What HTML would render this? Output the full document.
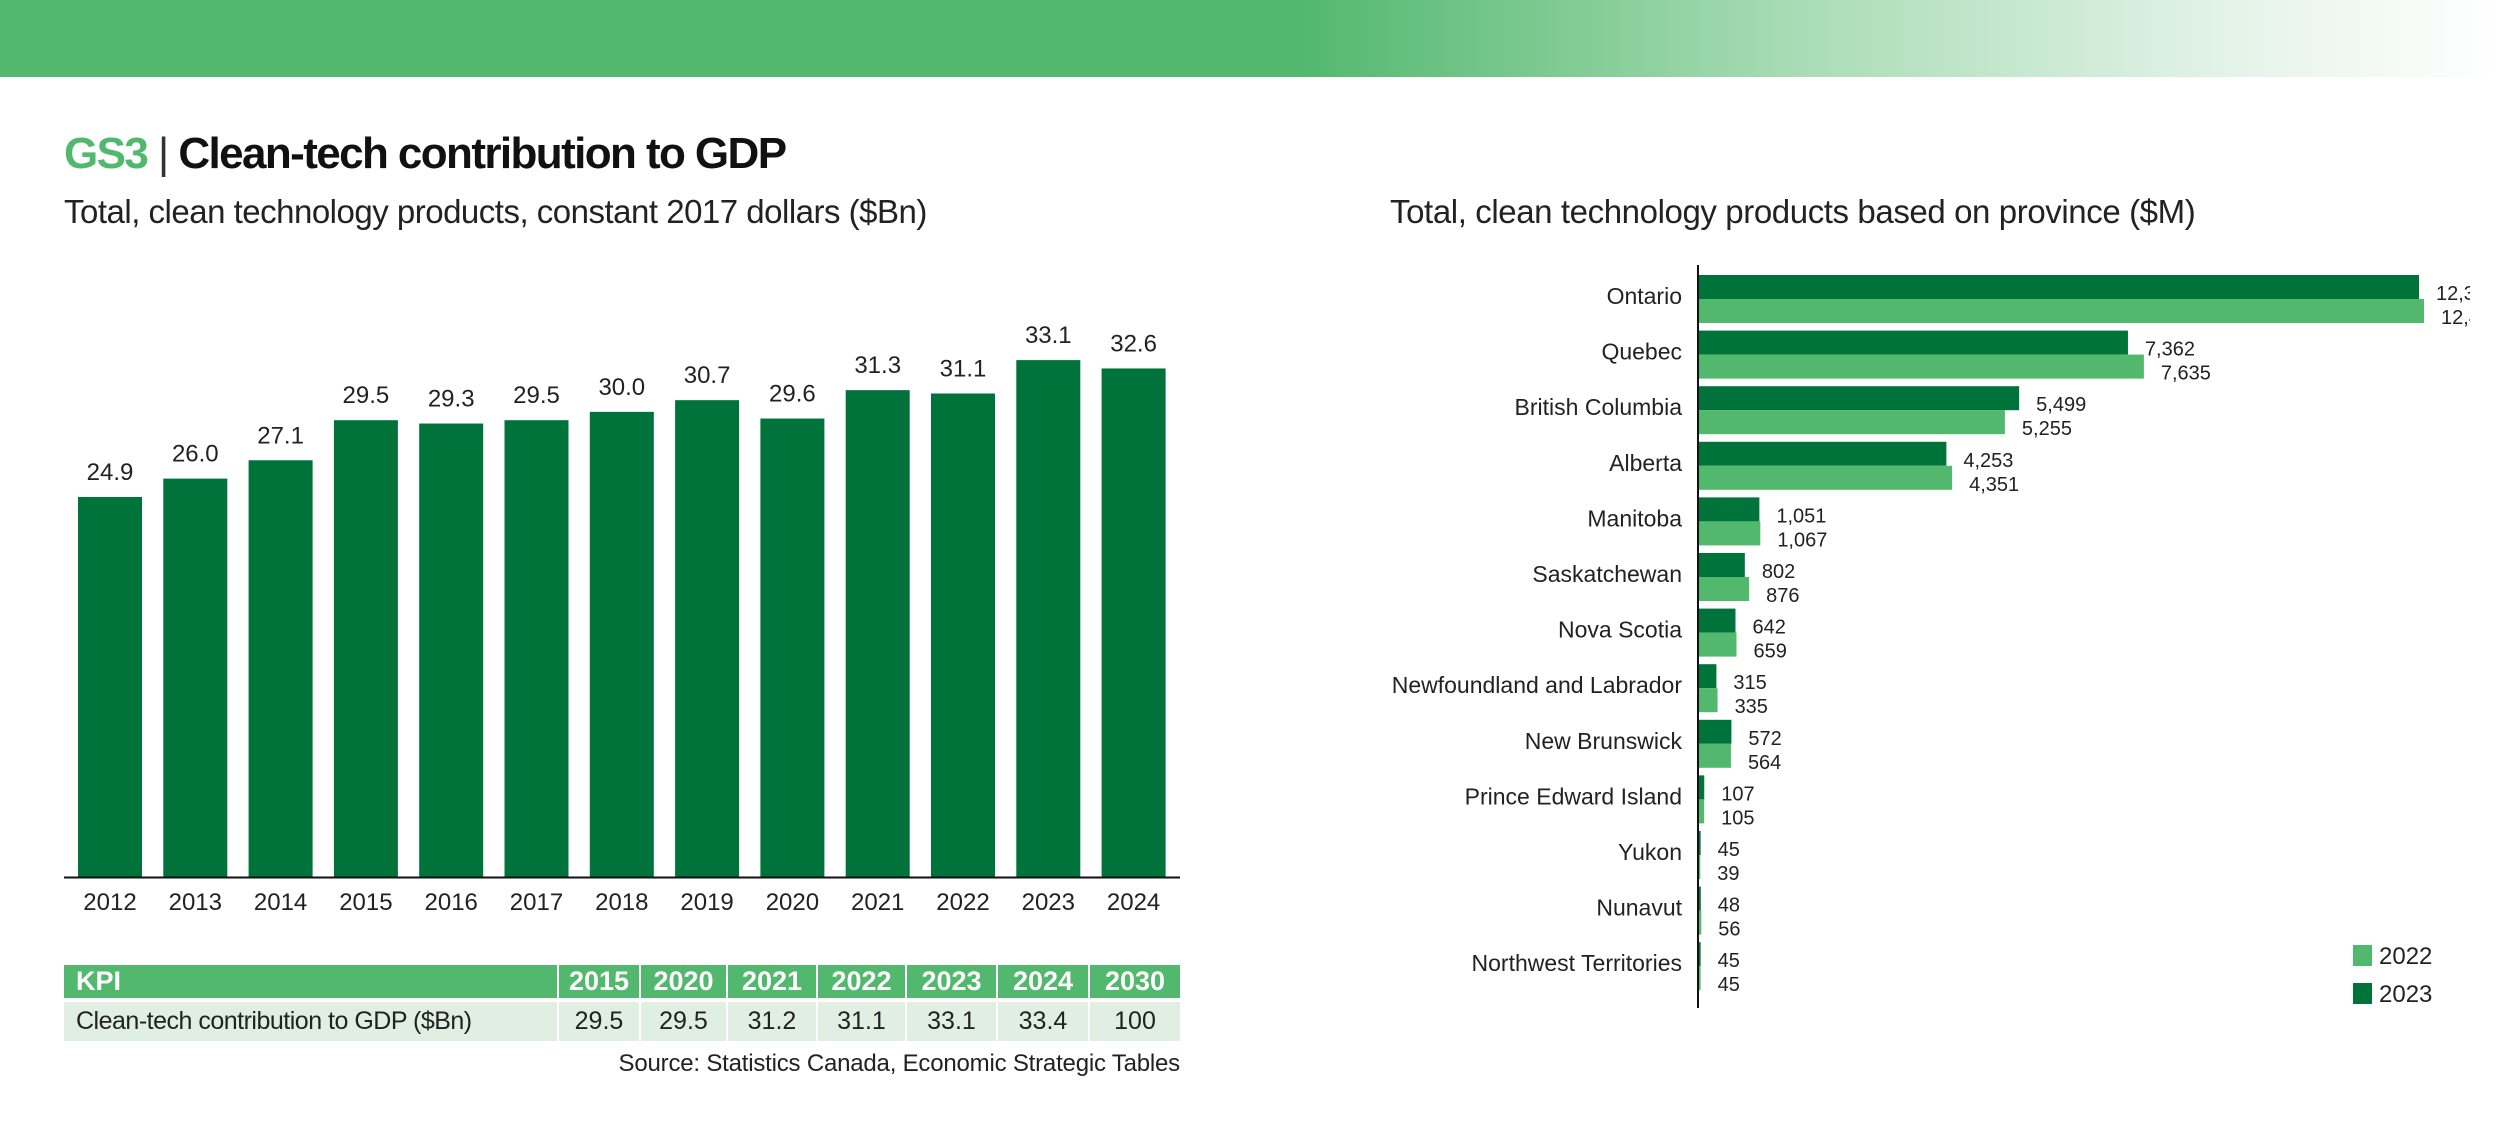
<!DOCTYPE html>
<html><head><meta charset="utf-8">
<style>
html,body{margin:0;padding:0;background:#fff;}
body{width:2500px;height:1129px;position:relative;overflow:hidden;font-family:"Liberation Sans",sans-serif;color:#111;}
#band{position:absolute;left:0;top:0;width:2500px;height:77px;background:linear-gradient(90deg,#52b86e 0%,#52b86e 52%,#a9dcb6 72%,#e6f4ea 90%,#fff 100%);}
.t{position:absolute;white-space:nowrap;}
</style></head>
<body>
<div id="band"></div>
<div class="t" style="left:64px;top:129px;font-size:44px;font-weight:bold;letter-spacing:-1.6px;"><span style="color:#52b86e">GS3</span> <span style="font-weight:normal;color:#333">|</span> Clean-tech contribution to GDP</div>
<div class="t" style="left:64px;top:193px;font-size:33px;letter-spacing:-0.5px;color:#222;">Total, clean technology products, constant 2017 dollars ($Bn)</div>
<div class="t" style="left:1390px;top:193px;font-size:33px;letter-spacing:-0.4px;color:#222;">Total, clean technology products based on province ($M)</div>

<svg id="left" width="2500" height="1129" style="position:absolute;left:0;top:0;" font-family="Liberation Sans, sans-serif"></svg>
<svg id="right" width="2470" height="1129" style="position:absolute;left:0;top:0;" font-family="Liberation Sans, sans-serif"></svg>

<div style="position:absolute;left:64px;top:965px;width:1116px;">
<table style="border-collapse:collapse;width:1116px;font-size:25px;table-layout:fixed;">
<colgroup><col style="width:494px"><col style="width:82px"><col style="width:87px"><col style="width:90px"><col style="width:89px"><col style="width:91px"><col style="width:92px"><col style="width:91px"></colgroup>
<tr style="background:#52b86e;color:#fff;font-weight:bold;height:33px;font-size:27px;">
<td style="padding:0 12px;">KPI</td><td style="text-align:center;border-left:2px solid #fff">2015</td><td style="text-align:center;border-left:2px solid #fff">2020</td><td style="text-align:center;border-left:2px solid #fff">2021</td><td style="text-align:center;border-left:2px solid #fff">2022</td><td style="text-align:center;border-left:2px solid #fff">2023</td><td style="text-align:center;border-left:2px solid #fff">2024</td><td style="text-align:center;border-left:2px solid #fff">2030</td></tr>
<tr style="height:4px"><td colspan="8" style="padding:0;height:3px"></td></tr>
<tr style="background:#e0efe2;height:39px;color:#222;">
<td style="padding:0 12px;letter-spacing:-0.5px">Clean-tech contribution to GDP ($Bn)</td><td style="text-align:center;border-left:2px solid #fff">29.5</td><td style="text-align:center;border-left:2px solid #fff">29.5</td><td style="text-align:center;border-left:2px solid #fff">31.2</td><td style="text-align:center;border-left:2px solid #fff">31.1</td><td style="text-align:center;border-left:2px solid #fff">33.1</td><td style="text-align:center;border-left:2px solid #fff">33.4</td><td style="text-align:center;border-left:2px solid #fff">100</td></tr>
</table></div>
<div class="t" style="right:1320px;top:1050px;font-size:24px;letter-spacing:-0.2px;color:#222;">Source: Statistics Canada, Economic Strategic Tables</div>

<script>
const years = ['2012','2013','2014','2015','2016','2017','2018','2019','2020','2021','2022','2023','2024'];
const gdpValues = [24.9,26.0,27.1,29.5,29.3,29.5,30.0,30.7,29.6,31.3,31.1,33.1,32.6];
const gdpLabels = ['24.9','26.0','27.1','29.5','29.3','29.5','30.0','30.7','29.6','31.3','31.1','33.1','32.6'];

const provinces = ['Ontario','Quebec','British Columbia','Alberta','Manitoba','Saskatchewan','Nova Scotia','Newfoundland and Labrador','New Brunswick','Prince Edward Island','Yukon','Nunavut','Northwest Territories'];
const values2023 = [12346,7362,5499,4253,1051,802,642,315,572,107,45,48,45];
const values2022 = [12432,7635,5255,4351,1067,876,659,335,564,105,39,56,45];

const NS='http://www.w3.org/2000/svg';
function mk(svg,tag,attrs){const e=document.createElementNS(NS,tag);for(const k in attrs)e.setAttribute(k,attrs[k]);svg.appendChild(e);return e;}
function fmt(v){return v.toLocaleString('en-US');}

// left chart
const L=document.getElementById('left');
const x0=64,x1=1180,base=877,vmin=2.13,pxPer=16.69;
const firstBar=78,pitch0=85.3,bw=64;
const xL=i=>firstBar+i*pitch0;
const yL=v=>base-(v-vmin)*pxPer;
years.forEach((yr,i)=>{
  const r=mk(L,'rect',{x:xL(i),y:yL(gdpValues[i]),width:bw,height:base-yL(gdpValues[i]),fill:'#00733b'});
  
  
  const t=mk(L,'text',{x:xL(i)+bw/2,y:yL(gdpValues[i])-17,'text-anchor':'middle','font-size':24,fill:'#222'});
  t.textContent=gdpLabels[i];
  
  
  const a=mk(L,'text',{x:xL(i)+bw/2,y:910,'text-anchor':'middle','font-size':24,fill:'#222'});
  a.textContent=yr;
  
  
});
const ax=mk(L,'line',{x1:x0,x2:x1,y1:base+0.5,y2:base+0.5,stroke:'#111','stroke-width':2});



// right chart
const R=document.getElementById('right');
const axX=1698,pxU=0.0584,top0=275,pitch=55.6,bh=24;
const xR=v=>axX+v*pxU;
provinces.forEach((p,i)=>{
  const y=top0+i*pitch;
  const b1=mk(R,'rect',{x:axX,y:y,width:xR(values2023[i])-axX,height:bh,fill:'#00733b'});
  
  
  const b2=mk(R,'rect',{x:axX,y:y+bh,width:xR(values2022[i])-axX,height:bh,fill:'#52b86e'});
  
  
  const t1=mk(R,'text',{x:xR(values2023[i])+17,y:y+bh/2+13,'font-size':20,fill:'#222'});
  t1.textContent=fmt(values2023[i]);
  
  
  const t2=mk(R,'text',{x:xR(values2022[i])+17,y:y+bh*1.5+13,'font-size':20,fill:'#222'});
  t2.textContent=fmt(values2022[i]);
  
  
  const c=mk(R,'text',{x:1682,y:y+bh+5,'text-anchor':'end','font-size':23,fill:'#222'});
  c.textContent=p;
  
  
});
const ay=mk(R,'line',{x1:axX,x2:axX,y1:265,y2:1008,stroke:'#111','stroke-width':2});


// legend
const lg=[['2022','#52b86e',945],['2023','#00733b',983]];
lg.forEach(([n,c,y])=>{
  const s=mk(R,'rect',{x:2353,y:y,width:19,height:21,fill:c});
  
  
  const t=mk(R,'text',{x:2379,y:y+19,'font-size':24,fill:'#222'});
  t.textContent=n;
  
  
});
</script>
</body></html>
